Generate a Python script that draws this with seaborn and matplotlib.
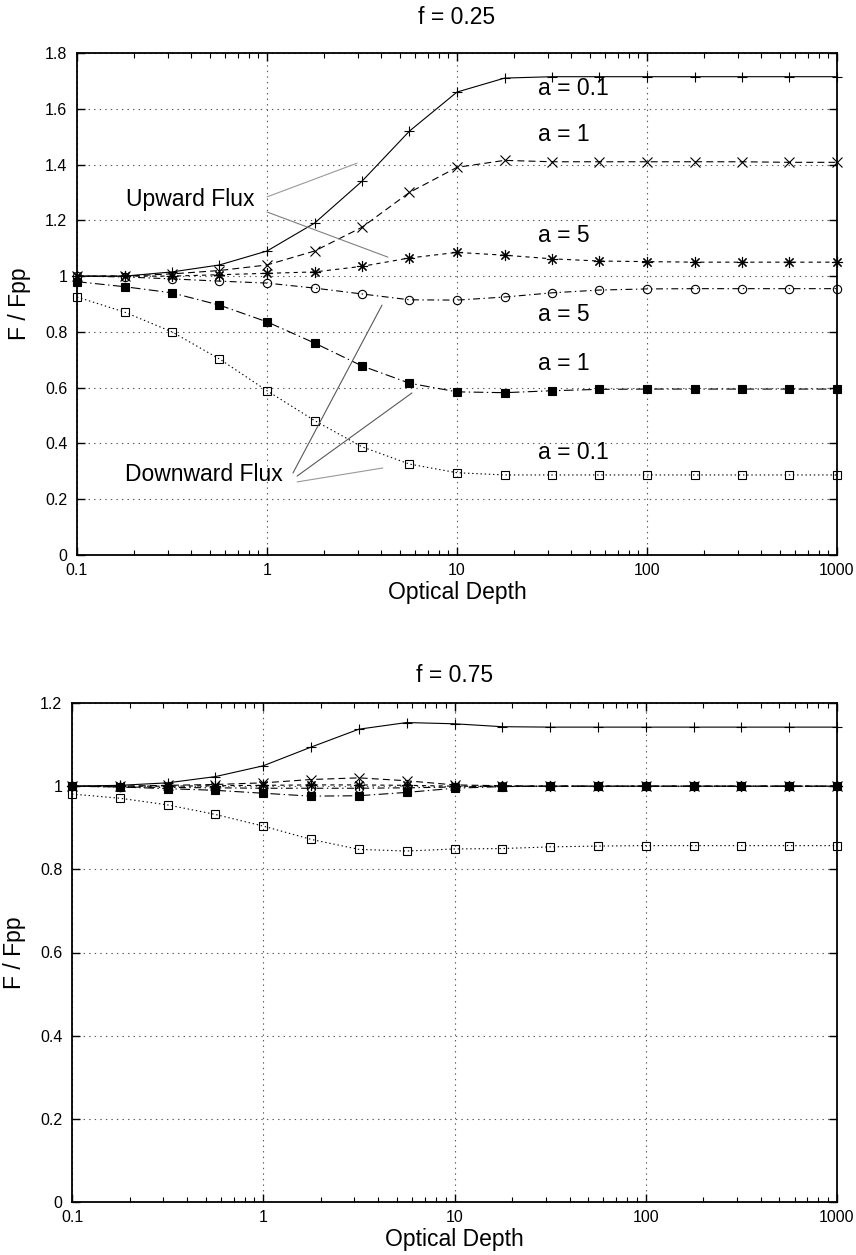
import numpy as np
import pandas as pd
import matplotlib
matplotlib.use("Agg")
import matplotlib.pyplot as plt
from matplotlib.ticker import FuncFormatter, FixedLocator, LogLocator, NullFormatter
import seaborn as sns

# Optical depth grid (quarter-decade steps)
tau = [0.1, 0.178, 0.316, 0.562, 1, 1.78, 3.16, 5.62, 10, 17.8, 31.6, 56.2,
       100, 178, 316, 562, 1000]

# f = 0.25 : upward / downward flux relative to plane-parallel value
up_a01_f25 = [1.0, 1.0, 1.015, 1.04, 1.09, 1.19, 1.34, 1.52, 1.66, 1.71, 1.715,
              1.715, 1.715, 1.715, 1.715, 1.715, 1.715]
up_a1_f25 = [1.0, 1.0, 1.008, 1.02, 1.04, 1.09, 1.175, 1.30, 1.39, 1.415, 1.41,
             1.41, 1.41, 1.41, 1.41, 1.408, 1.408]
up_a5_f25 = [1.0, 1.0, 1.0, 1.005, 1.01, 1.015, 1.035, 1.065, 1.085, 1.075,
             1.062, 1.054, 1.052, 1.05, 1.05, 1.05, 1.05]
dn_a5_f25 = [1.0, 0.997, 0.99, 0.982, 0.975, 0.957, 0.936, 0.915, 0.914, 0.925,
             0.94, 0.95, 0.954, 0.955, 0.955, 0.955, 0.955]
dn_a1_f25 = [0.98, 0.962, 0.94, 0.896, 0.836, 0.76, 0.678, 0.616, 0.585, 0.582,
             0.589, 0.594, 0.595, 0.595, 0.595, 0.595, 0.595]
dn_a01_f25 = [0.925, 0.871, 0.80, 0.703, 0.589, 0.482, 0.388, 0.326, 0.295,
              0.287, 0.287, 0.287, 0.287, 0.287, 0.287, 0.287, 0.287]

# f = 0.75
up_a01_f75 = [1.0, 1.002, 1.008, 1.023, 1.049, 1.094, 1.137, 1.153, 1.15, 1.143,
              1.142, 1.142, 1.142, 1.142, 1.142, 1.142, 1.142]
up_a1_f75 = [1.0, 1.0, 1.002, 1.004, 1.008, 1.016, 1.02, 1.013, 1.003, 1.001,
             1.0, 1.0, 1.0, 1.0, 1.0, 1.0, 1.0]
up_a5_f75 = [1.0, 1.0, 1.0, 1.001, 1.002, 1.003, 1.003, 1.002, 1.0, 1.0,
             1.0, 1.0, 1.0, 1.0, 1.0, 1.0, 1.0]
dn_a5_f75 = [1.0, 0.998, 0.997, 0.996, 0.995, 0.995, 0.995, 0.996, 0.998, 1.0,
             1.0, 1.0, 1.0, 1.0, 1.0, 1.0, 1.0]
dn_a1_f75 = [1.0, 0.998, 0.994, 0.99, 0.983, 0.976, 0.977, 0.985, 0.995, 0.999,
             1.0, 1.0, 1.0, 1.0, 1.0, 1.0, 1.0]
dn_a01_f75 = [0.981, 0.971, 0.955, 0.932, 0.904, 0.872, 0.848, 0.844, 0.849,
              0.85, 0.854, 0.856, 0.857, 0.857, 0.857, 0.857, 0.857]

curve_labels = ["a = 0.1", "a = 1", "a = 5", "a = 5", "a = 1", "a = 0.1"]

sns.set_style("ticks")
plt.rcParams["font.family"] = ["Liberation Sans", "DejaVu Sans"]
plt.rcParams["lines.scale_dashes"] = False
for key in ["text.color", "axes.labelcolor", "xtick.color", "ytick.color",
            "xtick.labelcolor", "ytick.labelcolor"]:
    plt.rcParams[key] = "black"

# line style per curve: (marker, size, filled, dash pattern)
styles = [
    dict(marker="+", ms=7.5, mfc="k", ls="-"),
    dict(marker="x", ms=6.5, mfc="k", ls=(0, (5, 3))),
    dict(marker=(8, 2, 0), ms=8, mfc="k", ls=(0, (3, 3))),
    dict(marker="o", ms=6, mfc="none", ls=(0, (5, 2.5, 1, 2.5))),
    dict(marker="s", ms=6, mfc="k", ls=(0, (7, 2.5, 1, 2.5))),
    dict(marker="s", ms=6, mfc="none", ls=(0, (1, 2))),
]

fig = plt.figure(figsize=(8.56, 12.55), dpi=100)
ax1 = fig.add_axes([77 / 856, 1 - 555 / 1255, 760 / 856, 502 / 1255])
ax2 = fig.add_axes([72 / 856, 1 - 1202 / 1255, 765 / 856, 499 / 1255])

fmt = FuncFormatter(lambda v, p: "%g" % v)


def draw_panel(ax, series, title, ymax, title_y):
    for vals, st in zip(series, styles):
        df = pd.DataFrame({"tau": tau, "F": vals})
        sns.lineplot(data=df, x="tau", y="F", ax=ax, color="k", lw=0.8,
                     linestyle=st["ls"], marker=st["marker"], ms=st["ms"],
                     mfc=st["mfc"], mec="k", mew=0.8, errorbar=None,
                     estimator=None, sort=False, clip_on=False)
    ax.set_xscale("log")
    ax.set_xlim(0.1, 1000)
    ax.set_ylim(0, ymax)
    ax.yaxis.set_major_locator(FixedLocator(np.arange(0, ymax + 0.01, 0.2)))
    ax.xaxis.set_major_locator(FixedLocator([0.1, 1, 10, 100, 1000]))
    ax.xaxis.set_minor_locator(LogLocator(base=10, subs=np.arange(2, 10)))
    ax.xaxis.set_minor_formatter(NullFormatter())
    ax.xaxis.set_major_formatter(fmt)
    ax.yaxis.set_major_formatter(fmt)
    ax.grid(True, which="major", color="0.35", lw=0.8, ls=(0, (1, 3)))
    ax.tick_params(which="both", direction="in", top=True, right=True,
                   labelsize=11.5, color="k", labelcolor="k")
    ax.tick_params(which="major", length=6, width=1)
    ax.tick_params(which="minor", length=3.5, width=0.8)
    ax.tick_params(axis="x", pad=6)
    ax.tick_params(axis="y", pad=7)
    for s in ax.spines.values():
        s.set_color("k")
        s.set_linewidth(1.3)
    ax.set_xlabel("Optical Depth", fontsize=16.5, labelpad=2, color="k")
    ax.set_ylabel("F / Fpp", fontsize=16.5, labelpad=10, color="k")
    ax.set_title(title, fontsize=16.5, y=title_y, pad=0, va="center", color="k")


draw_panel(ax1, [up_a01_f25, up_a1_f25, up_a5_f25, dn_a5_f25, dn_a1_f25, dn_a01_f25],
           "f = 0.25", 1.8, 1 + 36 / 502)
draw_panel(ax2, [up_a01_f75, up_a1_f75, up_a5_f75, dn_a5_f75, dn_a1_f75, dn_a01_f75],
           "f = 0.75", 1.2, 1 + 28 / 499)

# curve labels in the upper panel
label_y = [1.674, 1.506, 1.147, 0.864, 0.688, 0.366]
for txt, yv in zip(curve_labels, label_y):
    ax1.text(26.7, yv, txt, fontsize=16.5, ha="left", va="center", color="k")

# flux group annotations with pointer lines
ax1.text(0.181, 1.273, "Upward Flux", fontsize=16.5, ha="left", va="center",
         color="k")
ax1.text(0.179, 0.287, "Downward Flux", fontsize=16.5, ha="left", va="center",
         color="k")
pointers = [
    ((1.0, 1.284), (2.98, 1.405), "0.6"),
    ((1.0, 1.23), (4.33, 1.068), "0.5"),
    ((1.37, 0.294), (4.03, 0.896), "0.35"),
    ((1.44, 0.283), (5.79, 0.581), "0.35"),
    ((1.44, 0.262), (4.07, 0.312), "0.6"),
]
for (x0, y0), (x1, y1), c in pointers:
    ax1.annotate("", xy=(x1, y1), xytext=(x0, y0),
                 arrowprops=dict(arrowstyle="-", color=c, lw=0.8,
                                 shrinkA=0, shrinkB=0))

fig.savefig("out.png", dpi=100)
